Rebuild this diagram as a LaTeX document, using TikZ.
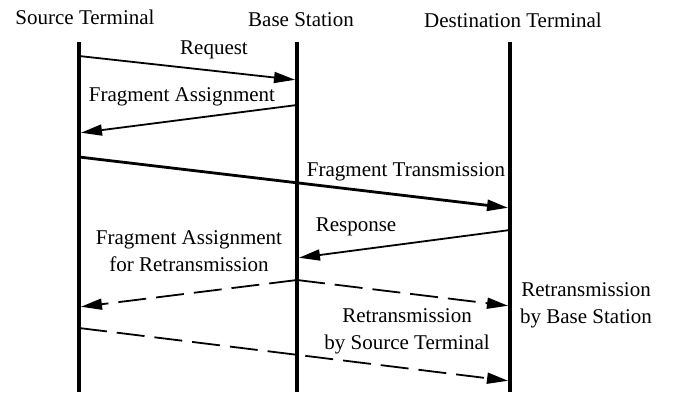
\documentclass[tikz,border=0pt]{standalone}
\usepackage{fontspec}
\setmainfont{Liberation Serif}
\usetikzlibrary{arrows.meta}
\begin{document}
\begin{tikzpicture}[x=1pt,y=-1pt,
  lifeline/.style={line width=4.5pt},
  msg/.style={line width=1.8pt,shorten >=2pt,-{Triangle[length=21pt,width=11pt]}},
  heavy/.style={msg,line width=2.8pt},
  dashmsg/.style={msg,dash pattern=on 28pt off 10pt},
  lbl/.style={font=\fontsize{21}{27}\selectfont,inner sep=0pt,align=center}]
\useasboundingbox (0,0) rectangle (675,392);

% column headings
\node[lbl] (hs) at (85,17) {Source Terminal};
\node[lbl] (hb) at (301,20) {Base Station};
\node[lbl] (hd) at (513,20) {Destination Terminal};

% lifelines
\coordinate (sTop) at (79,42);  \coordinate (sBot) at (79,392);
\coordinate (bTop) at (297,42); \coordinate (bBot) at (297,392);
\coordinate (dTop) at (510,42); \coordinate (dBot) at (510,392);
\draw[lifeline] (sTop) -- (sBot);
\draw[lifeline] (bTop) -- (bBot);
\draw[lifeline] (dTop) -- (dBot);

% message end points on the lifelines
\coordinate (s1) at (79,56);   \coordinate (b1) at (297,80);
\coordinate (b2) at (297,105); \coordinate (s2) at (79,133);
\coordinate (s3) at (79,157);  \coordinate (d3) at (510,208);
\coordinate (d4) at (510,230); \coordinate (b4) at (297,258);
\coordinate (b5) at (297,280); \coordinate (s5) at (79,307);
\coordinate (d6) at (510,306);
\coordinate (s7) at (79,328);  \coordinate (d7) at (510,381);

% messages
\draw[msg] (s1) -- (b1);
\draw[msg] (b2) -- (s2);
\draw[heavy] (s3) -- (d3);
\draw[msg] (d4) -- (b4);
\draw[dashmsg] (b5) -- (s5);
\draw[dashmsg] (b5) -- (d6);
\draw[dashmsg] (s7) -- (d7);

% message labels
\node[lbl] (lReq) at (214,50) {Request};
\node[lbl] (lFA) at (182,97) {Fragment Assignment};
\node[lbl] (lFT) at (406,172) {Fragment Transmission};
\node[lbl] (lResp) at (356,227) {Response};
\node[lbl] (lFAR) at (189,251) {Fragment Assignment\\for Retransmission};
\node[lbl] (lRBS) at (586,305) {Retransmission\\by Base Station};
\node[lbl] (lRST) at (407,331) {Retransmission\\by Source Terminal};
\end{tikzpicture}
\end{document}
